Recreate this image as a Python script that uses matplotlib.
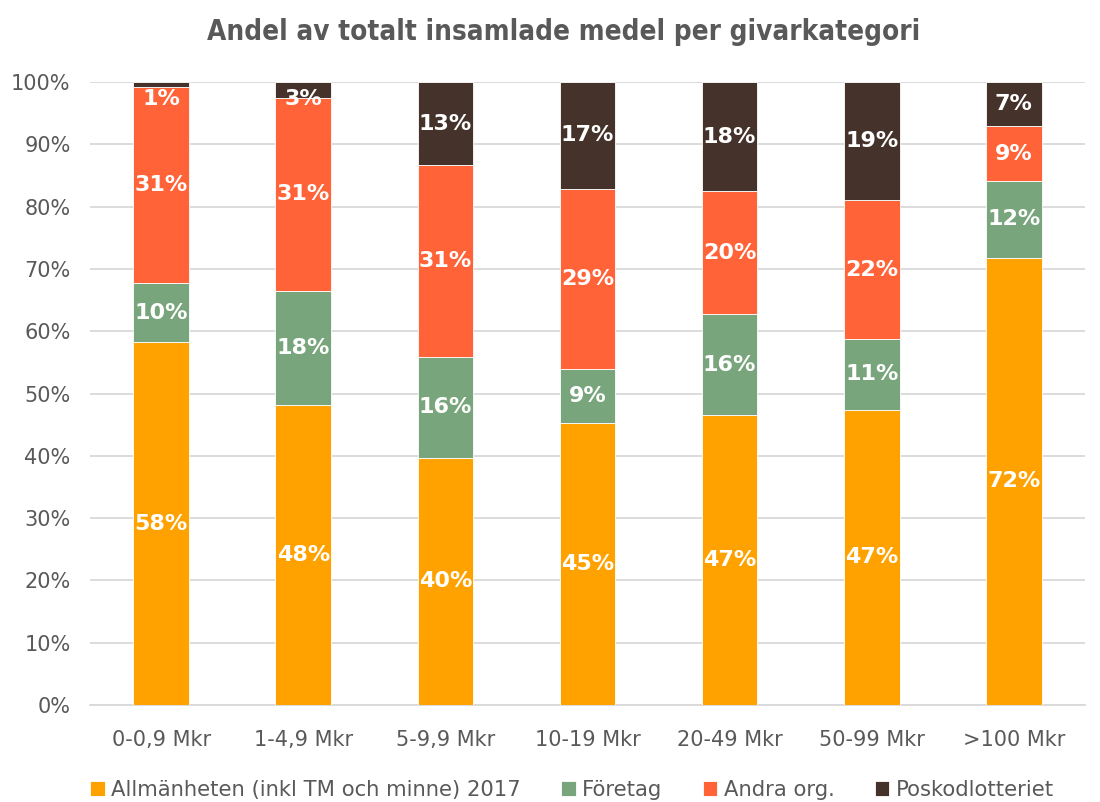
import matplotlib.pyplot as plt
import numpy as np

categories = ["0-0,9 Mkr", "1-4,9 Mkr", "5-9,9 Mkr", "10-19 Mkr", "20-49 Mkr", "50-99 Mkr", ">100 Mkr"]
allmanheten = [58.2, 48.2, 39.7, 45.2, 46.6, 47.4, 71.8]
foretag = [9.6, 18.3, 16.2, 8.8, 16.1, 11.3, 12.3]
andra_org = [31.4, 30.9, 30.7, 28.9, 19.8, 22.4, 8.8]
poskod = [0.8, 2.6, 13.4, 17.1, 17.5, 18.9, 7.1]

series = [
    ("Allmänheten (inkl TM och minne) 2017", allmanheten, "#FFA200"),
    ("Företag", foretag, "#78A57B"),
    ("Andra org.", andra_org, "#FF6337"),
    ("Poskodlotteriet", poskod, "#45322A"),
]

grey = "#595959"

fig = plt.figure(figsize=(11, 8.02), dpi=100)
ax = fig.add_axes([90 / 1100, 1 - 705 / 802, 995 / 1100, 623 / 802])

x = np.arange(len(categories))
bottom = np.zeros(len(categories))
for name, vals, color in series:
    vals = np.array(vals)
    ax.bar(x, vals, 0.39, bottom=bottom, color=color, label=name,
           edgecolor="white", linewidth=0.6, zorder=3)
    for xi, b, v in zip(x, bottom, vals):
        # thin top segments get their label just below the bar top
        y = b + v / 2 if v >= 5 else 97.3
        ax.text(xi, y, f"{round(v):.0f}%", ha="center", va="center",
                color="white", fontsize=16, fontweight="bold", zorder=4)
    bottom += vals

ax.set_xlim(-0.5, len(categories) - 0.5)
ax.set_ylim(0, 100)
ax.set_yticks(np.arange(0, 101, 10))
ax.set_yticklabels([f"{t}%" for t in range(0, 101, 10)])
ax.set_xticks(x)
ax.set_xticklabels(categories)
ax.tick_params(axis="both", length=0, colors=grey, labelsize=15)
ax.tick_params(axis="x", pad=18)
ax.tick_params(axis="y", pad=14)
ax.grid(axis="y", color="#D9D9D9", linewidth=1.3, zorder=0)
for s in ["top", "right", "left"]:
    ax.spines[s].set_visible(False)
ax.spines["bottom"].set_color("#D9D9D9")
ax.spines["bottom"].set_linewidth(1.3)

fig.text(0.512, 1 - 32 / 802, "Andel av totalt insamlade medel per givarkategori",
         ha="center", va="center", fontsize=20, fontweight="heavy",
         fontstretch="condensed", color=grey)

fig.legend(loc="center", bbox_to_anchor=(0.52, 1 - 790 / 802), ncol=4,
           frameon=False, fontsize=15.2, labelcolor=grey, handlelength=0.7,
           handleheight=0.7, handletextpad=0.3, columnspacing=1.9)

fig.savefig("out.png", dpi=100)
